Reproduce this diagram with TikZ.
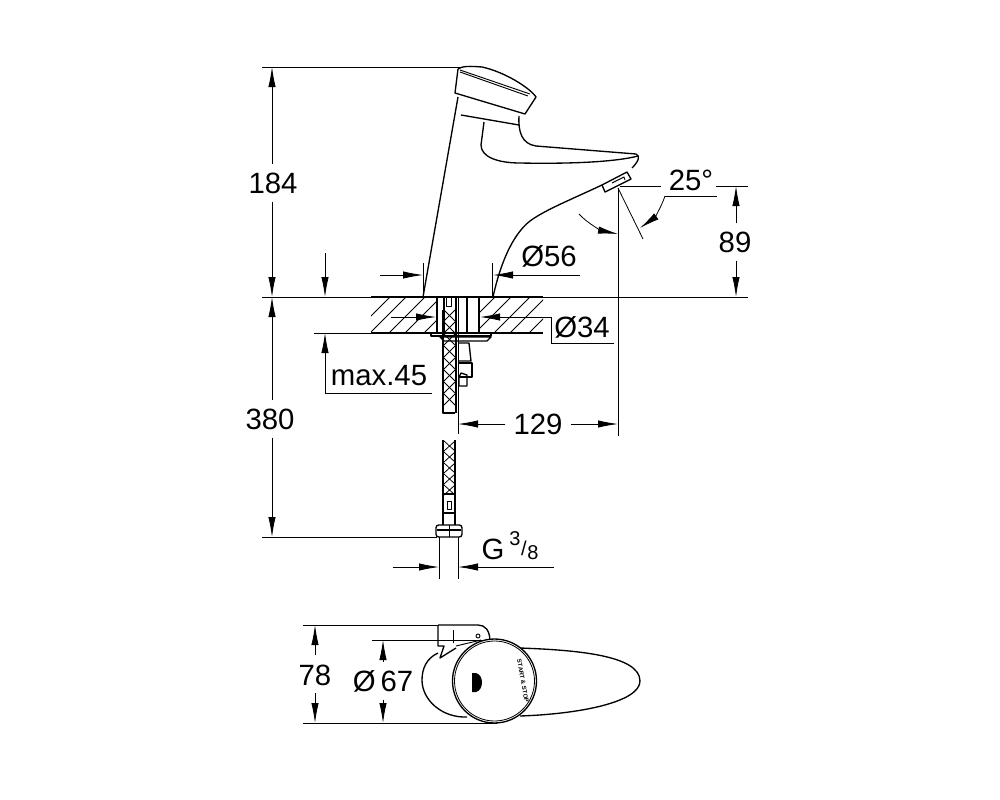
\documentclass[tikz,border=0pt]{standalone}
\usepackage{fontspec}
\setmainfont{Liberation Sans}
\usetikzlibrary{
  arrows.meta,
  patterns,
  calc}
\tikzset{
  %% dimline : a dimension or extension line
  dimline/.style={line width=0.6pt},
  %% dimarrow : a dimension line with a long filled tip
  dimarrow/.style={dimline, -{Latex[length=15pt,width=5.5pt]}},
  %% partline : outline of the tap
  partline/.style={line width=1.0pt, line join=round},
  %% dimtext : the figures
  dimtext/.style={font=\fontsize{22}{22}\selectfont, inner sep=0pt},
  %% smalltext : fraction digits
  smalltext/.style={font=\fontsize{15}{15}\selectfont, inner sep=0pt}
}

\begin{document}
\begin{tikzpicture}
  [x=0.75pt,
  y=-0.75pt]
  \useasboundingbox (0,0) rectangle (1000,800);

  %% Dimension figures
  \node (t184) [dimtext] at (273,183) {184};
  \node (t380) [dimtext] at (270,419) {380};
  \node (t89) [dimtext] at (735,242) {89};
  \node (t25) [dimtext] at (691,180) {25°};
  \node (t56) [dimtext] at (549,256) {Ø56};
  \node (t34) [dimtext] at (582,327) {Ø34};
  \node (tmax) [dimtext] at (379,376) {max.45};
  \node (t129) [dimtext] at (538,424) {129};
  \node (tg) [dimtext] at (493,549) {G};
  \node (tg3) [smalltext] at (515,539) {3};
  \node (tgs) [smalltext] at (524,548) {/};
  \node (tg8) [smalltext] at (533,553) {8};
  \node (t78) [dimtext] at (315,675) {78};
  \node (t67) [dimtext] at (383,681) {Ø\,67};

  %% Extension lines, elevation
  \coordinate (floorL) at (262,297);
  \coordinate (floorR) at (748,297);
  \coordinate (topL) at (262,67);
  \coordinate (topR) at (462,67);
  \coordinate (endL) at (262,537);
  \coordinate (endR) at (437,537);
  \draw [dimline] (floorL) -- (floorR);
  \draw [dimline] (topL) -- (topR);
  \draw [dimline] (endL) -- (endR);

  %% 184 and 380
  \coordinate (d184t) at (272,67);
  \coordinate (d184b) at (272,297);
  \coordinate (d380b) at (272,537);
  \draw [dimarrow] (t184.north) ++(-1,-8) -- (d184t);
  \draw [dimarrow] (t184.south) ++(-1,8) -- (d184b);
  \draw [dimarrow] (t380.north) ++(2,-8) -- (d184b);
  \draw [dimarrow] (t380.south) ++(2,8) -- (d380b);

  %% 89 and 25 degrees
  \coordinate (a89t) at (736,186);
  \coordinate (a89b) at (736,297);
  \coordinate (lead25a) at (620,186);
  \coordinate (lead25b) at (661,186);
  \coordinate (lead89a) at (716,186);
  \coordinate (lead89b) at (748,186);
  \draw [dimline] (lead25a) -- (lead25b);
  \draw [dimline] (lead89a) -- (lead89b);
  \draw [dimarrow] (t89.north) ++(1,-8) -- (a89t);
  \draw [dimarrow] (t89.south) ++(1,8) -- (a89b);
  \coordinate (axis1) at (618,188);
  \coordinate (axis2) at (618,436);
  \coordinate (ang1) at (643,239);
  \draw [dimline] (axis1) -- (axis2);
  \draw [dimline] (axis1) -- (ang1);
  \coordinate (arcA) at (579,214);
  \coordinate (arcB) at (618,234);
  \coordinate (arcC) at (717,196);
  \coordinate (arcD) at (665,196);
  \coordinate (arcE) at (640,228);
  \draw [dimline] (arcC) -- (arcD);
  \draw [dimarrow] (arcD) .. controls (661,208) and (654,218) .. (arcE);
  \draw [dimarrow] (arcA) .. controls (588,224) and (603,231) .. (arcB);

  %% Tap body
  \coordinate (handleA) at (458,69);
  \coordinate (handleB) at (455,93);
  \coordinate (handleC) at (525,114);
  \coordinate (handleD) at (536,97);
  \draw [partline] (handleA) -- (handleB) -- (handleC) -- (handleD)
  .. controls (530,88) and (505,72) .. (482,67)
  .. controls (470,66) and (462,66) .. (handleA);
  \draw [partline, line width=0.7pt] (460,70) -- (530,94);
  \draw [partline, line width=0.7pt] (460,72) -- (528,96);
  \coordinate (bodyTop) at (458,97);
  \coordinate (bodyFoot) at (423,297);
  \draw [partline] (bodyTop) -- (bodyFoot);
  \draw [partline] (461,115) -- (519,125);
  \draw [partline] (519,116) .. controls (518,132) and (522,144) .. (536,146)
  -- (636,154)
  .. controls (641,156) and (638,162) .. (632,168);
  \draw [partline] (484,122) -- (481,145)
  .. controls (481,157) and (498,163) .. (520,163)
  .. controls (570,164) and (615,162) .. (638,156);
  \coordinate (aerA) at (602,185);
  \coordinate (aerB) at (627,172);
  \coordinate (aerC) at (631,179);
  \coordinate (aerD) at (605,192);
  \draw [partline] (aerA) -- (aerB) -- (aerC) -- (aerD) -- cycle;
  \draw [partline, line width=0.7pt] (612,183) -- (624,177) -- (625,180);
  \draw [partline] (aerA) .. controls (570,200) and (545,210) .. (530,221)
  .. controls (512,235) and (500,265) .. (493,297);

  %% Diameter 56
  \coordinate (d56L) at (423,275);
  \coordinate (d56R) at (493,275);
  \coordinate (d56Lend) at (380,275);
  \coordinate (d56Rend) at (580,275);
  \draw [dimline] (423,263) -- (423,297);
  \draw [dimline] (492,263) -- (492,297);
  \draw [dimarrow] (d56Lend) -- (d56L);
  \draw [dimarrow] (d56Rend) -- (d56R);

  %% Basin cut
  \fill [white] (371,297) rectangle (543,333);
  \begin{scope}
    \clip (371,297) rectangle (436,333) (480,297) rectangle (543,333);
    \foreach \hx in {390,425,460,495,530,565} {
      \draw [dimline] (\hx-36,333) -- (\hx,297);
      \draw [dimline] (\hx-20,333) -- (\hx+16,297);
    }
  \end{scope}
  \draw [partline] (371,297) -- (543,297);
  \draw [dimline] (314,333) -- (371,333);
  \draw [partline] (371,333) -- (543,333);

  %% Mounting tube
  \draw [partline] (437,297) -- (437,333);
  \draw [partline] (444,297) -- (444,333);
  \draw [partline] (467,297) -- (467,333);
  \draw [partline] (479,297) -- (479,333);
  \draw [partline, line width=0.7pt] (446,298) -- (446,306) -- (451,306) -- (451,298);
  \filldraw [fill=white, partline] (431,333) -- (491,333) -- (491,336) -- (431,336) -- cycle;
  \filldraw [fill=white, partline] (440,337) -- (491,337) -- (487,341) -- (444,341) -- cycle;
  %% Nut under the basin
  \draw [partline] (458,343) -- (469,343) -- (471,361) -- (458,361);
  \draw [partline] (458,363) -- (472,363) -- (472,377) -- (458,377);
  \draw [partline] (459,377) -- (459,386) -- (467,386) -- (467,375) -- (461,373) -- (459,377);

  %% Hose, upper part
  \draw [partline] (443,310) -- (443,413) -- (455,413);
  \draw [partline, line width=1.4pt] (456,297) -- (456,413);
  \foreach \hy in {310,322,...,402} {
    \draw [dimline] (444,\hy) -- (455,\hy+11);
    \draw [dimline] (455,\hy) -- (444,\hy+11);
  }
  \coordinate (e129a) at (458,297);
  \coordinate (e129b) at (458,434);
  \draw [dimline] (e129a) -- (e129b);

  %% Hose, lower part
  \draw [partline] (443,440) -- (443,525);
  \draw [partline] (455,440) -- (455,525);
  \foreach \hy in {441,452,...,485} {
    \draw [dimline] (444,\hy) -- (455,\hy+10);
    \draw [dimline] (455,\hy) -- (444,\hy+10);
  }
  \draw [partline] (443,494) -- (455,494);
  \draw [partline] (442,513) -- (456,513);
  \draw [partline, line width=0.7pt] (447,501) rectangle (451,509);
  \draw [partline, fill=white, rounded corners=2pt] (436,525) rectangle (462,537);
  \draw [partline] (437,530) -- (461,530);
  \draw [partline, line width=0.7pt] (449,525) -- (449,537);

  %% Diameter 34
  \coordinate (d34L) at (436,317);
  \coordinate (d34R) at (480,317);
  \coordinate (d34a) at (391,317);
  \coordinate (d34b) at (551,317);
  \coordinate (d34c) at (551,343);
  \coordinate (d34d) at (614,343);
  \draw [dimarrow] (d34a) -- (d34L);
  \draw [dimline] (d34d) -- (d34c) -- (d34b) -- (510,317);
  \draw [dimarrow] (510,317) -- (d34R);

  %% max.45
  \coordinate (maxU) at (325,333);
  \coordinate (maxD) at (325,393);
  \coordinate (maxE) at (432,393);
  \coordinate (maxT) at (325,253);
  \coordinate (maxF) at (325,297);
  \draw [dimarrow] (maxT) -- (maxF);
  \draw [dimline] (maxE) -- (maxD) -- (325,360);
  \draw [dimarrow] (325,360) -- (maxU);

  %% 129
  \draw [dimarrow] (t129.west) ++(-8,0) -- (458,424);
  \draw [dimarrow] (t129.east) ++(8,0) -- (618,424);

  %% G 3/8
  \coordinate (gL) at (439,567);
  \coordinate (gR) at (458,567);
  \draw [dimline] (439,537) -- (439,579);
  \draw [dimline] (458,537) -- (458,579);
  \draw [dimarrow] (393,567) -- (gL);
  \draw [dimarrow] (554,567) -- (gR);

  %% Plan view
  \draw [dimline] (303,625) -- (438,625);
  \draw [dimline] (372,640) -- (483,640);
  \draw [dimline] (303,723) -- (497,723);
  \draw [partline] (520,648) .. controls (575,650) and (640,655) .. (640,681)
  .. controls (640,702) and (580,714) .. (520,716);
  \draw [partline] (438,653) .. controls (427,658) and (422,668) .. (422,680)
  .. controls (422,700) and (442,718) .. (467,717);
  \draw [partline] (438,625) -- (478,625)
  .. controls (485,625) and (490,630) .. (490,642);
  \draw [partline] (438,625) -- (438,646) -- (444,646) -- (440,658) -- (456,648);
  \draw [partline, line width=0.7pt] (456,646) -- (481,640);
  \draw [partline, line width=0.7pt] (453,630) -- (453,643);
  \draw [partline, line width=0.7pt] (478,636) circle (2);
  \node (cap) [circle, draw, fill=white, line width=1pt, minimum size=63pt, inner sep=0pt] at (494.5,681) {};
  \draw [partline, line width=0.6pt] (cap.center) circle (40);
  \fill (472,673) -- (476,673) .. controls (484,675) and (484,690) .. (476,692) -- (472,692) -- cycle;
  \node (label) [font=\fontsize{4.5}{4.5}\selectfont\bfseries, rotate=-80, inner sep=0pt] at (523,681) {START \& STOP};

  %% 78 and 67
  \draw [dimarrow] (315,655) -- (315,625);
  \draw [dimarrow] (315,693) -- (315,723);
  \draw [dimarrow] (383,662) -- (383,640);
  \draw [dimarrow] (383,700) -- (383,723);
\end{tikzpicture}
\end{document}
